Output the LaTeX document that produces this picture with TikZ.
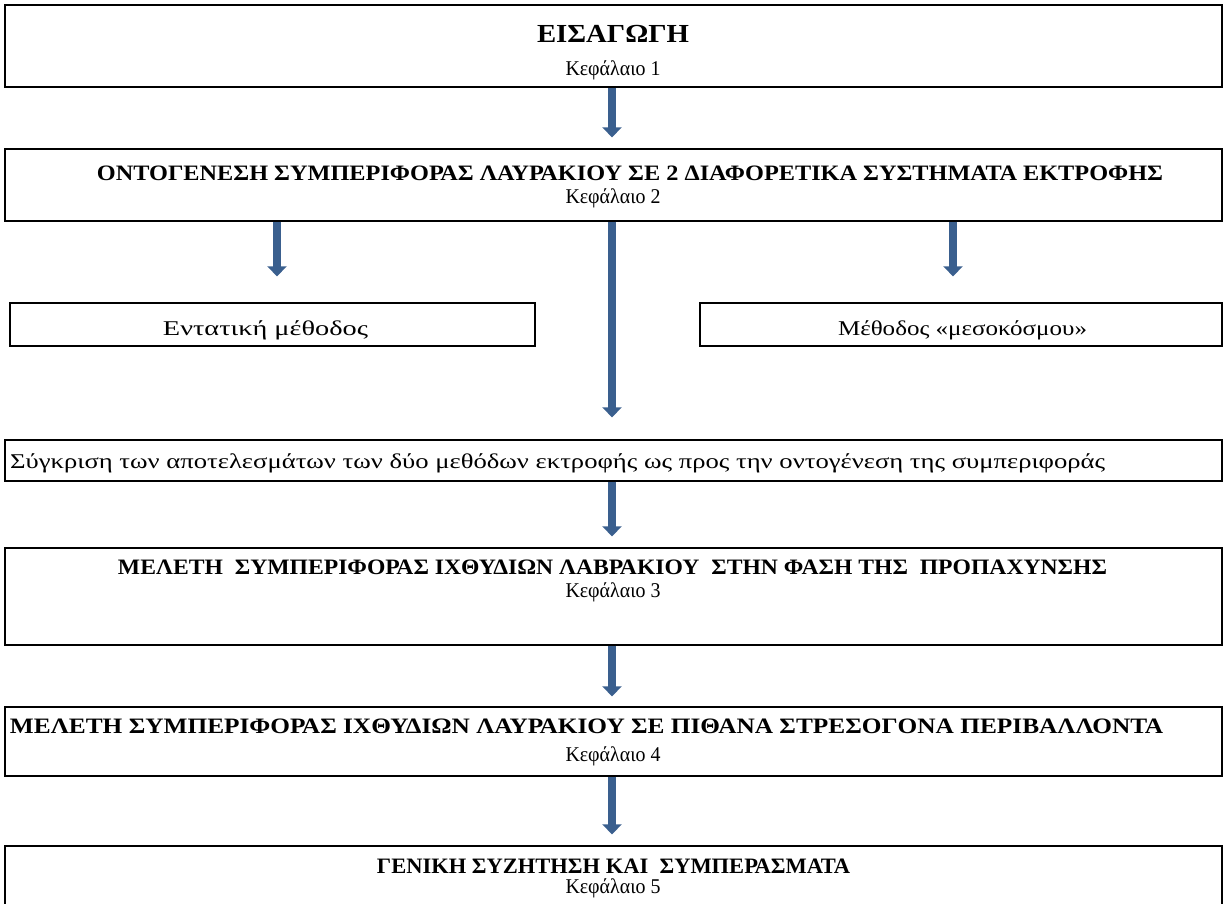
\documentclass[tikz,border=0pt]{standalone}
\usepackage{fontspec}
\usepackage{graphicx}
\setmainfont{Liberation Serif}
\usetikzlibrary{arrows.meta}
\definecolor{arrblue}{RGB}{58,95,142}
\newcommand{\fitw}[2]{\resizebox{#1pt}{\height}{#2}}
\begin{document}
\begin{tikzpicture}[x=1pt,y=-1pt,
  box/.style={draw=black, line width=1.3pt, inner sep=0pt, rectangle},
  lbl/.style={inner sep=0pt, anchor=base, font=\fontsize{21}{24}\selectfont},
  ttl/.style={inner sep=0pt, anchor=base, font=\fontsize{22}{25}\selectfont\bfseries},
  arr/.style={draw=arrblue, line width=8pt, -{Triangle[width=19pt,length=10pt]}}]
\useasboundingbox (0,0) rectangle (1226,903);
\clip (0,0) rectangle (1226,903);
% boxes
\node[box, minimum width=1217, minimum height=82] (b1) at (613.5,46) {};
\node[box, minimum width=1217, minimum height=72] (b2) at (613.5,185) {};
\node[box, minimum width=525, minimum height=43] (lbox) at (272.5,324.5) {};
\node[box, minimum width=522, minimum height=43] (rbox) at (961,324.5) {};
\node[box, minimum width=1217, minimum height=41] (cmp) at (613.5,460.5) {};
\node[box, minimum width=1217, minimum height=97] (b3) at (613.5,596.5) {};
\node[box, minimum width=1217, minimum height=69] (b4) at (613.5,741.5) {};
\node[box, minimum width=1217, minimum height=66] (b5) at (613.5,879) {};
% texts
\node[ttl, font=\fontsize{26}{29}\selectfont\bfseries] (t1) at (613,42) {\fitw{152}{ΕΙΣΑΓΩΓΗ}};
\node[lbl] (k1) at (613,75) {\fitw{95}{Κεφάλαιο 1}};
\node[ttl] (t2) at (630,180) {\fitw{1066}{ΟΝΤΟΓΕΝΕΣΗ ΣΥΜΠΕΡΙΦΟΡΑΣ ΛΑΥΡΑΚΙΟΥ ΣΕ 2 ΔΙΑΦΟΡΕΤΙΚΑ ΣΥΣΤΗΜΑΤΑ ΕΚΤΡΟΦΗΣ}};
\node[lbl] (k2) at (613,203) {\fitw{95}{Κεφάλαιο 2}};
\node[lbl] (tl) at (265.5,335) {\fitw{205}{Εντατική μέθοδος}};
\node[lbl] (tr) at (962.5,335) {\fitw{249}{Μέθοδος «μεσοκόσμου»}};
\node[lbl, anchor=base west] (tc) at (10,468) {\fitw{1095}{Σύγκριση των αποτελεσμάτων των δύο μεθόδων εκτροφής ως προς την οντογένεση της συμπεριφοράς}};
\node[ttl] (t3) at (612.5,574) {\fitw{989}{ΜΕΛΕΤΗ~ ΣΥΜΠΕΡΙΦΟΡΑΣ ΙΧΘΥΔΙΩΝ ΛΑΒΡΑΚΙΟΥ~ ΣΤΗΝ ΦΑΣΗ ΤΗΣ~ ΠΡΟΠΑΧΥΝΣΗΣ}};
\node[lbl] (k3) at (613,597) {\fitw{95}{Κεφάλαιο 3}};
\node[ttl] (t4) at (586.5,733) {\fitw{1153}{ΜΕΛΕΤΗ ΣΥΜΠΕΡΙΦΟΡΑΣ ΙΧΘΥΔΙΩΝ ΛΑΥΡΑΚΙΟΥ ΣΕ ΠΙΘΑΝΑ ΣΤΡΕΣΟΓΟΝΑ ΠΕΡΙΒΑΛΛΟΝΤΑ}};
\node[lbl] (k4) at (613,761) {\fitw{95}{Κεφάλαιο 4}};
\node[ttl] (t5) at (613.5,873) {\fitw{473}{ΓΕΝΙΚΗ ΣΥΖΗΤΗΣΗ ΚΑΙ~ ΣΥΜΠΕΡΑΣΜΑΤΑ}};
\node[lbl] (k5) at (613,893) {\fitw{95}{Κεφάλαιο 5}};
% arrows
\draw[arr] ([xshift=-1.5pt]b1.south) -- ([xshift=-1.5pt,yshift=11pt]b2.north);
\draw[arr] ([xshift=-1.5pt]b2.south) -- ([xshift=-1.5pt,yshift=22pt]cmp.north);
\draw[arr] ([xshift=4.5pt]lbox.north |- b2.south) -- ([xshift=4.5pt,yshift=26pt]lbox.north);
\draw[arr] ([xshift=-8pt]rbox.north |- b2.south) -- ([xshift=-8pt,yshift=26pt]rbox.north);
\draw[arr] ([xshift=-1.5pt]cmp.south) -- ([xshift=-1.5pt,yshift=11pt]b3.north);
\draw[arr] ([xshift=-1.5pt]b3.south) -- ([xshift=-1.5pt,yshift=10pt]b4.north);
\draw[arr] ([xshift=-1.5pt]b4.south) -- ([xshift=-1.5pt,yshift=11pt]b5.north);
\end{tikzpicture}
\end{document}
